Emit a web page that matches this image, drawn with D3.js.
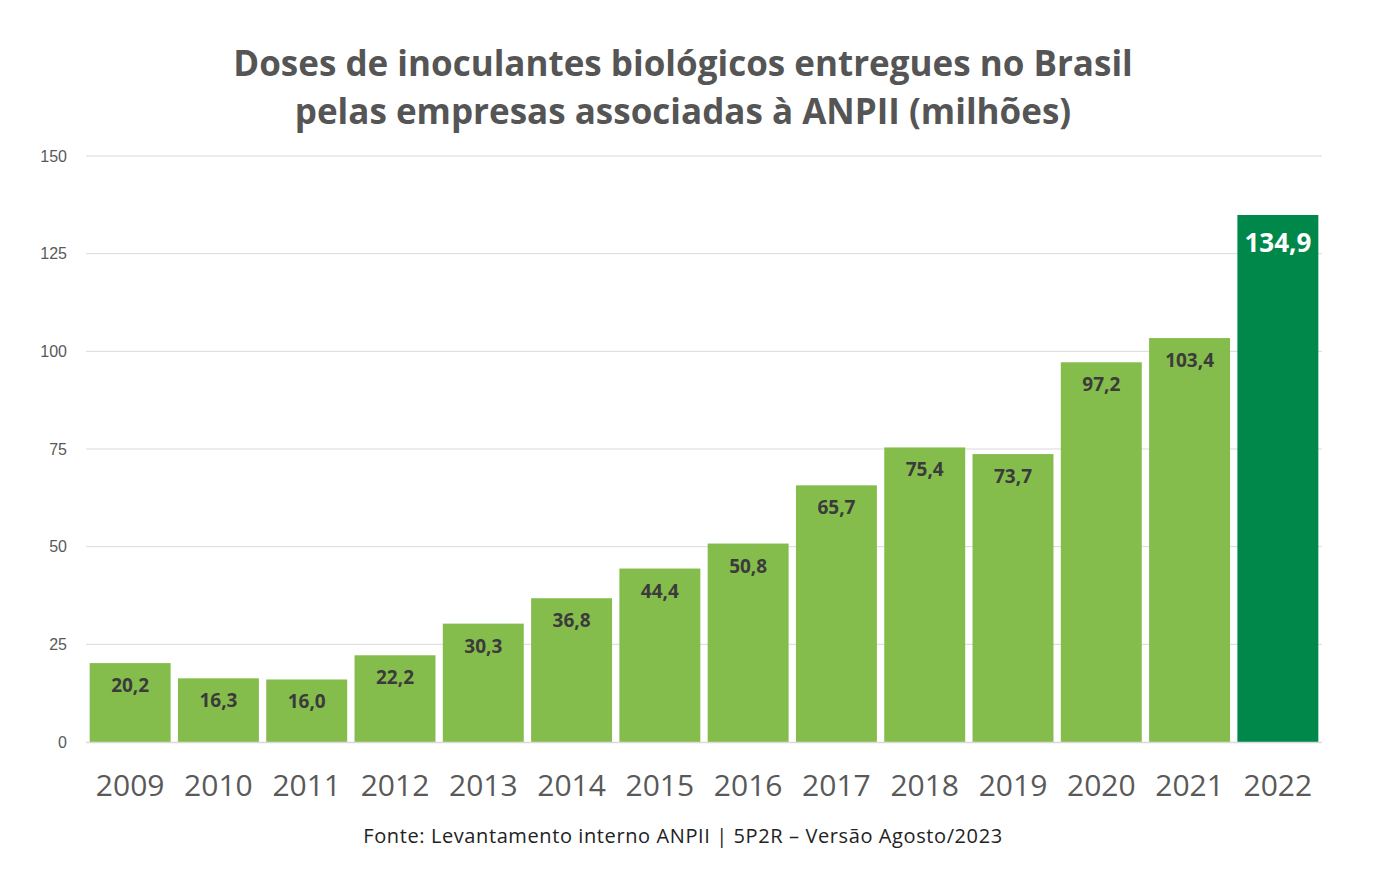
<!DOCTYPE html>
<html>
<head>
<meta charset="utf-8">
<script src="https://cdn.jsdelivr.net/npm/d3@7"></script>
<style>
  body { margin: 0; background: #fff; }
  svg { display: block; }
</style>
</head>
<body>
<div id="chart"></div>
<script>
// data
var years = ["2009","2010","2011","2012","2013","2014","2015","2016","2017","2018","2019","2020","2021","2022"];
var doses = [20.2, 16.3, 16.0, 22.2, 30.3, 36.8, 44.4, 50.8, 65.7, 75.4, 73.7, 97.2, 103.4, 134.9];
var yTicks = [0, 25, 50, 75, 100, 125, 150];
var titleLines = ["Doses de inoculantes biológicos entregues no Brasil",
                  "pelas empresas associadas à ANPII (milhões)"];
var source = "Fonte: Levantamento interno ANPII | 5P2R – Versão Agosto/2023";

var W = 1398, H = 892;
var margin = {top: 156, right: 76, bottom: 150, left: 86},
  width = W - margin.left - margin.right,
  height = H - margin.top - margin.bottom;

var svg = d3.select("#chart")
.append("svg")
  .attr("width", W)
  .attr("height", H);

var font = "'Open Sans', sans-serif";

// title
svg.append("g")
  .selectAll("text")
  .data(titleLines)
  .enter()
  .append("text")
    .attr("x", 683)
    .attr("y", function(d, i) { return 76 + i * 48; })
    .attr("text-anchor", "middle")
    .attr("font-family", font)
    .attr("font-weight", 700)
    .attr("font-size", "35px")
    .attr("fill", "#555555")
    .text(function(d) { return d; });

var g = svg.append("g")
  .attr("transform", "translate(" + margin.left + "," + margin.top + ")");

var x = d3.scaleBand()
  .domain(years)
  .range([0, width])
  .paddingInner(0.083)
  .paddingOuter(0.0415);

var y = d3.scaleLinear()
  .domain([0, 150])
  .range([height, 0]);

// gridlines
g.append("g")
  .selectAll("line")
  .data(yTicks.slice(1))
  .enter()
  .append("line")
    .attr("x1", 0)
    .attr("x2", width)
    .attr("y1", function(d) { return y(d); })
    .attr("y2", function(d) { return y(d); })
    .attr("stroke", "#d9d9d9")
    .attr("stroke-width", 1);

// y axis labels
var yAxis = g.append("g")
  .call(d3.axisLeft(y).tickValues(yTicks).tickSize(0).tickPadding(19));
yAxis.select(".domain").remove();
yAxis.selectAll("text")
  .attr("font-family", "'Liberation Sans', Arial, sans-serif")
  .attr("font-size", "16px")
  .attr("fill", "#595959");

// bars
g.selectAll("rect.bar")
  .data(doses)
  .enter()
  .append("rect")
    .attr("class", "bar")
    .attr("x", function(d, i) { return x(years[i]); })
    .attr("y", function(d) { return y(d); })
    .attr("width", x.bandwidth())
    .attr("height", function(d) { return height - y(d); })
    .attr("fill", function(d, i) { return i === years.length - 1 ? "#00884a" : "#85bd4c"; });

// baseline
g.append("line")
  .attr("x1", 0)
  .attr("x2", width)
  .attr("y1", y(0) + 0.5)
  .attr("y2", y(0) + 0.5)
  .attr("stroke", "#d9d9d9")
  .attr("stroke-width", 1.5);

// value labels
var fmt = function(v) { return v.toFixed(1).replace(".", ","); };
g.selectAll("text.val")
  .data(doses)
  .enter()
  .append("text")
    .attr("class", "val")
    .attr("x", function(d, i) { return x(years[i]) + x.bandwidth() / 2; })
    .attr("y", function(d, i) { return y(d) + (i === years.length - 1 ? 37 : 29); })
    .attr("text-anchor", "middle")
    .attr("font-family", font)
    .attr("font-weight", 700)
    .attr("font-size", function(d, i) { return i === years.length - 1 ? "26px" : "19px"; })
    .attr("fill", function(d, i) { return i === years.length - 1 ? "#ffffff" : "#3b3b3b"; })
    .text(fmt);

// x axis labels
var xAxis = g.append("g")
  .attr("transform", "translate(0," + height + ")")
  .call(d3.axisBottom(x).tickSize(0).tickPadding(33));
xAxis.select(".domain").remove();
xAxis.selectAll("text")
  .attr("font-family", font)
  .attr("font-size", "30px")
  .attr("fill", "#595959");

// source
svg.append("text")
  .attr("x", 683)
  .attr("y", 843)
  .attr("text-anchor", "middle")
  .attr("font-family", font)
  .attr("font-size", "20px")
  .attr("letter-spacing", "0.6px")
  .attr("fill", "#222222")
  .text(source);
</script>
</body>
</html>
